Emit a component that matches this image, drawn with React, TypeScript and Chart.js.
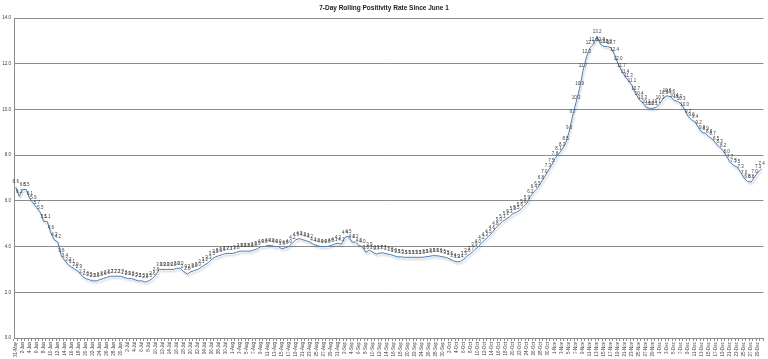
import React, { useEffect, useRef } from "react";
import { Chart, registerables } from "chart.js";

Chart.register(...registerables);

const TITLE = "7-Day Rolling Positivity Rate Since June 1";

const MONTHS = ["Jan", "Feb", "Mar", "Apr", "May", "Jun", "Jul", "Aug", "Sep", "Oct", "Nov", "Dec"];

// dates 31-May .. 30-Dec
const dates: string[] = (() => {
  const out: string[] = [];
  const d = new Date(2020, 4, 31);
  for (let i = 0; i < 214; i++) {
    out.push(`${d.getDate()}-${MONTHS[d.getMonth()]}`);
    d.setDate(d.getDate() + 1);
  }
  return out;
})();

const positivityJun = [
  6.6, 6.2, 6.5, 6.5, 6.1, 5.9, 5.7, 5.5, 5.1, 5.1, 4.6, 4.3, 4.2, 3.6, 3.4, 3.2, 3.1, 3.0, 2.9, 2.7,
  2.6, 2.55, 2.5, 2.5, 2.55, 2.6, 2.65, 2.7, 2.7, 2.7, 2.7,
];
const positivityJul = [
  2.65, 2.6, 2.6, 2.55, 2.5, 2.5, 2.45, 2.5, 2.6, 2.75, 3.0, 3.0, 3.0, 3.0, 3.0, 3.05, 3.05, 2.9, 2.8, 2.9,
  2.95, 3.0, 3.1, 3.2, 3.3, 3.45, 3.55, 3.6, 3.65, 3.7, 3.7,
];
const positivityAug = [
  3.7, 3.75, 3.8, 3.8, 3.8, 3.8, 3.85, 3.9, 4.0, 4.0, 4.05, 4.05, 4.0, 4.0, 3.9, 3.95, 4.0, 4.15, 4.3, 4.35,
  4.3, 4.25, 4.2, 4.1, 4.05, 4.0, 4.0, 4.0, 4.05, 4.1, 4.15,
];
const positivitySep = [
  4.1, 4.4, 4.45, 4.2, 4.2, 4.05, 4.0, 3.75, 3.85, 3.75, 3.67, 3.72, 3.72, 3.68, 3.65, 3.6, 3.55, 3.55, 3.53, 3.53,
  3.53, 3.53, 3.53, 3.53, 3.55, 3.57, 3.6, 3.6, 3.58, 3.55,
];
const positivityOct = [
  3.52, 3.45, 3.38, 3.33, 3.35, 3.45, 3.6, 3.7, 3.85, 3.98, 4.15, 4.3, 4.45, 4.6, 4.8, 4.95, 5.1, 5.2, 5.3, 5.45,
  5.5, 5.6, 5.75, 5.9, 6.2, 6.4, 6.55, 6.8, 7.05, 7.3, 7.55,
];
const positivityNov = [
  7.85, 8.05, 8.25, 8.5, 9.0, 9.7, 10.3, 10.9, 11.7, 12.3, 12.7, 12.85, 13.2, 12.85, 12.75, 12.75, 12.7, 12.4, 12.0, 11.7,
  11.45, 11.25, 11.05, 10.7, 10.45, 10.3, 10.1, 10.05, 10.05, 10.1,
];
const positivityDec = [
  10.27, 10.5, 10.6, 10.55, 10.4, 10.35, 10.25, 10.0, 9.7, 9.55, 9.45, 9.2, 9.0, 8.95, 8.8, 8.7, 8.5, 8.35, 8.2, 7.95,
  7.7, 7.55, 7.48, 7.26, 7.0, 6.85, 6.82, 7.05, 7.26, 7.4,
];

const values = [
  ...positivityJun,
  ...positivityJul,
  ...positivityAug,
  ...positivitySep,
  ...positivityOct,
  ...positivityNov,
  ...positivityDec,
];

const yTicks = [0, 2, 4, 6, 8, 10, 12, 14];

const FONT = "'Liberation Sans', Arial, sans-serif";

const labelPlugin = {
  id: "pointLabels",
  beforeDatasetsDraw(chart: any) {
    const ctx = chart.ctx;
    ctx.save();
    ctx.shadowColor = "rgba(0,0,0,0.25)";
    ctx.shadowOffsetX = 1;
    ctx.shadowOffsetY = 2;
    ctx.shadowBlur = 2;
  },
  afterDatasetsDraw(chart: any) {
    const ctx = chart.ctx;
    ctx.restore();
    ctx.save();
    const meta = chart.getDatasetMeta(0);
    const data = chart.data.datasets[0].data as number[];
    ctx.font = `4.5px ${FONT}`;
    ctx.fillStyle = "#404040";
    ctx.textAlign = "center";
    ctx.textBaseline = "middle";
    meta.data.forEach((pt: any, i: number) => {
      ctx.fillText(data[i].toFixed(1), pt.x, pt.y - 5);
    });
    ctx.restore();
  },
  afterDraw(chart: any) {
    const ctx = chart.ctx;
    ctx.save();
    ctx.font = `bold 6.5px ${FONT}`;
    ctx.fillStyle = "#222";
    ctx.textAlign = "center";
    ctx.textBaseline = "middle";
    ctx.fillText(TITLE, 384, 8);
    ctx.restore();
  },
};

export default function App() {
  const ref = useRef<HTMLCanvasElement | null>(null);

  useEffect(() => {
    document.body.style.margin = "0";
    if (!ref.current) return;
    const chart = new Chart(ref.current, {
      type: "line",
      data: {
        labels: dates,
        datasets: [
          {
            data: values,
            borderColor: "#4a7ebb",
            borderWidth: 1,
            pointRadius: 0,
            tension: 0,
            fill: false,
          },
        ],
      },
      options: {
        animation: false,
        responsive: true,
        maintainAspectRatio: false,
        layout: { padding: { top: 18, right: 2, left: 0, bottom: 0 } },
        plugins: {
          legend: { display: false },
          title: { display: false },
          tooltip: { enabled: false },
        },
        scales: {
          x: {
            type: "category",
            offset: true,
            grid: {
              display: true,
              drawOnChartArea: false,
              drawTicks: true,
              tickLength: 3,
              color: "#8c8c8c",
              offset: true,
            },
            border: { color: "#8c8c8c" },
            ticks: {
              autoSkip: false,
              maxRotation: 90,
              minRotation: 90,
              padding: 1,
              font: { size: 4.5, family: FONT },
              color: "#404040",
              callback: (_v: any, i: number) => (i % 2 === 0 ? dates[i] : ""),
            },
            afterFit: (s: any) => {
              s.height = 21;
            },
          },
          y: {
            min: 0,
            max: 14,
            afterBuildTicks: (s: any) => {
              s.ticks = yTicks.map((v) => ({ value: v }));
            },
            grid: {
              color: "#8c8c8c",
              drawTicks: false,
            },
            border: { color: "#8c8c8c" },
            ticks: {
              padding: 3,
              font: { size: 4.5, family: FONT },
              color: "#404040",
              callback: (v: any) => Number(v).toFixed(1),
            },
            afterFit: (s: any) => {
              s.width = 14;
            },
          },
        },
      },
      plugins: [labelPlugin],
    });
    return () => chart.destroy();
  }, []);

  return (
    <div style={{ width: 768, height: 359, position: "relative", background: "#fff" }}>
      <canvas ref={ref} />
    </div>
  );
}
